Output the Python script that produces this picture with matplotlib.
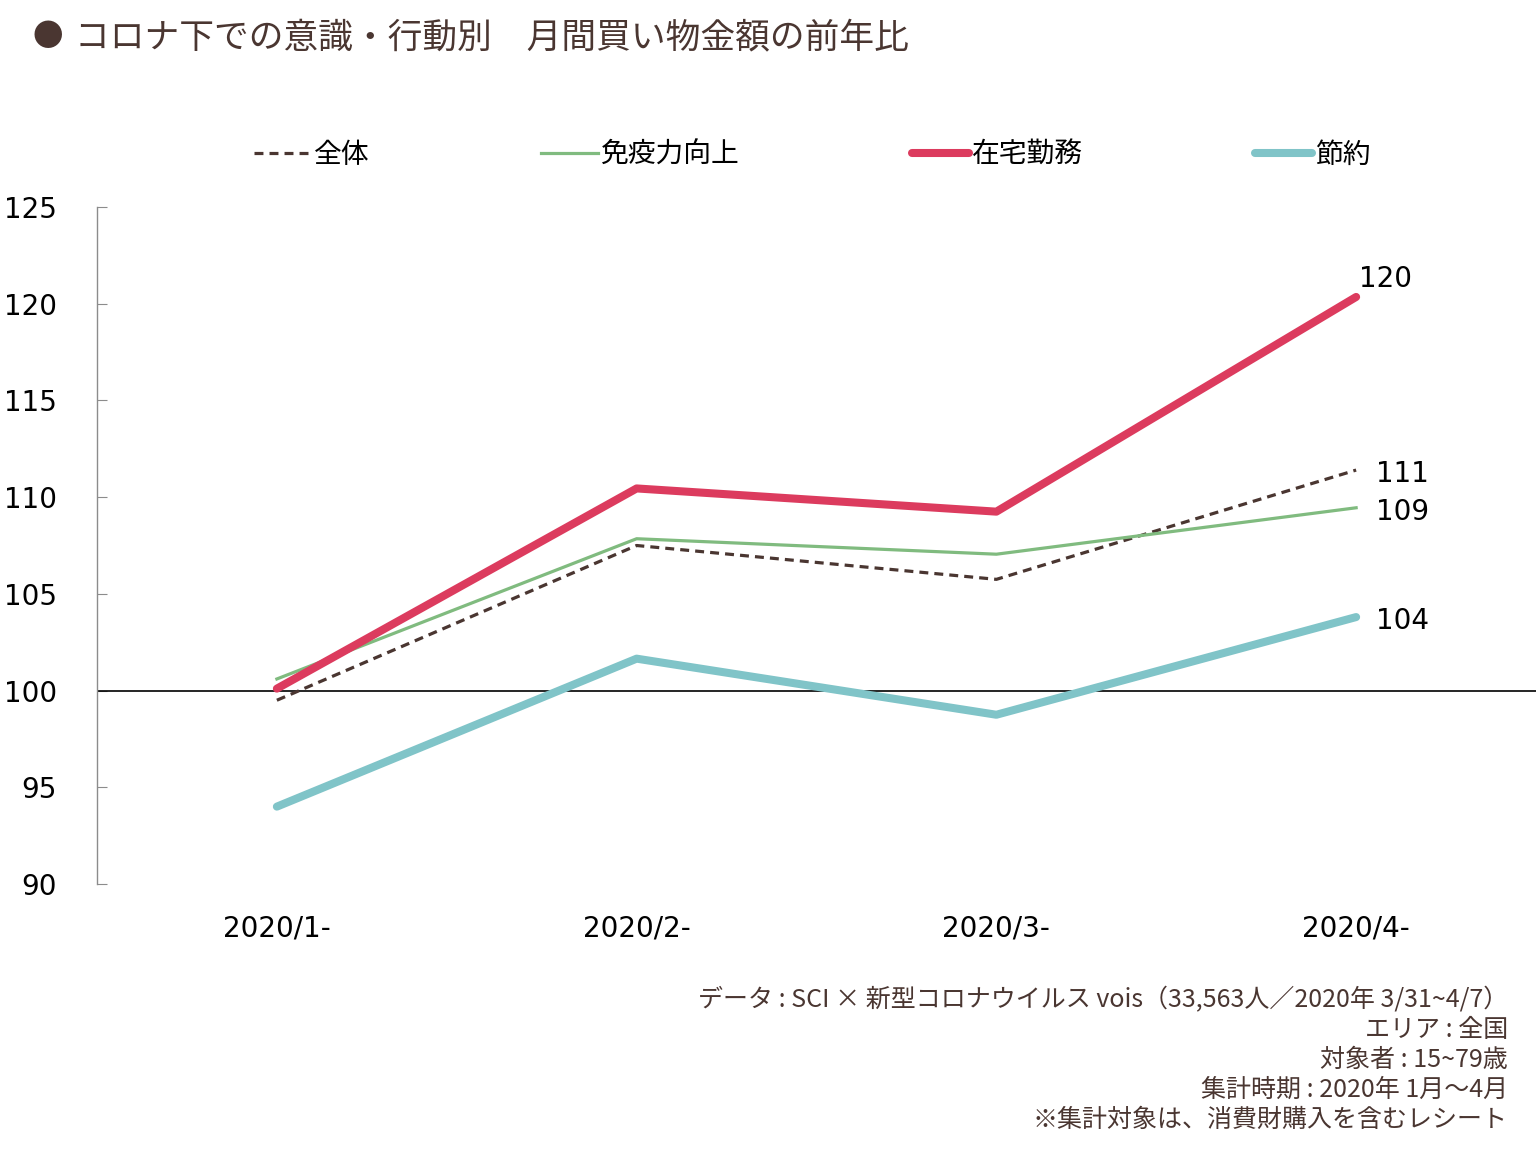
import os
import matplotlib
matplotlib.use("Agg")
import matplotlib.pyplot as plt
from matplotlib.font_manager import FontProperties

categories = ["2020/1-", "2020/2-", "2020/3-", "2020/4-"]
series_names = ["全体", "免疫力向上", "在宅勤務", "節約"]
overall = [99.5, 107.5, 105.75, 111.4]
immunity = [100.6, 107.85, 107.05, 109.45]
remote_work = [100.1, 110.45, 109.25, 120.35]
saving = [94.0, 101.65, 98.75, 103.8]
yticks = [90, 95, 100, 105, 110, 115, 120, 125]

title = "コロナ下での意識・行動別　月間買い物金額の前年比"
notes = [
    "データ : SCI × 新型コロナウイルス vois（33,563人／2020年 3/31~4/7）",
    "エリア : 全国",
    "対象者 : 15~79歳",
    "集計時期 : 2020年 1月～4月",
    "※集計対象は、消費財購入を含むレシート",
]

plt.rcParams["font.family"] = ["DejaVu Sans"]
JP = ["Noto Sans CJK JP", "DejaVu Sans"]
BROWN = "#4a3631"

dv_path = os.path.join(matplotlib.get_data_path(), "fonts", "ttf", "DejaVuSans.ttf")
if os.path.exists(dv_path):
    NUMFONT = FontProperties(fname=dv_path, size=20)
else:
    NUMFONT = FontProperties(family="DejaVu Sans", size=20)

fig = plt.figure(figsize=(15.36, 11.5), dpi=100)
ax = fig.add_axes([97 / 1536, 1 - 884 / 1150, 1 - 97 / 1536, (884 - 207) / 1150])

x = list(range(len(categories)))
styles = [
    (overall, dict(color="#4a3631", lw=2.3, ls=(0, (2.8, 1.9)))),
    (immunity, dict(color="#80bb7f", lw=2.3, ls="-")),
    (remote_work, dict(color="#dc3b5e", lw=5.8, ls="-", solid_capstyle="round")),
    (saving, dict(color="#80c4c8", lw=5.8, ls="-", solid_capstyle="round")),
]
handles = []
for (vals, st), name in zip(styles, series_names):
    h, = ax.plot(x, vals, label=name, zorder=3, **st)
    handles.append(h)

ax.axhline(100, color="black", lw=1.2, zorder=2)

ax.set_xlim(-0.5, 3.5)
ax.set_ylim(90, 125)
ax.set_yticks(yticks)
ax.set_yticklabels([str(t) for t in yticks], fontproperties=NUMFONT)
ax.set_xticks(x)
ax.set_xticklabels(categories, fontproperties=NUMFONT)
for s in ["top", "right", "bottom"]:
    ax.spines[s].set_visible(False)
ax.spines["left"].set_color("#8c8c8c")
ax.spines["left"].set_linewidth(1.0)
ax.tick_params(axis="y", direction="in", length=7, color="#8c8c8c", pad=29,
               labelcolor="black")
ax.tick_params(axis="x", length=0, pad=22, labelcolor="black")

# end labels
offsets = [(14, -3), (14, -3), (2, 13), (14, -3)]
for (vals, st), off in zip(styles, offsets):
    ax.annotate(f"{round(vals[-1])}", (x[-1], vals[-1]), xytext=off,
                textcoords="offset points", ha="left", va="center",
                fontproperties=NUMFONT, color="black", zorder=4)

fig.legend(handles=handles, labels=series_names, loc="center",
           bbox_to_anchor=(812 / 1536, 1 - 155 / 1150), ncol=4, frameon=False,
           prop={"family": JP, "size": 20}, handlelength=2.05,
           handletextpad=0.1, columnspacing=6.2, borderpad=0)

fig.text(33 / 1536, 1 - 38 / 1150, "●", family=JP, fontsize=22, color=BROWN,
         ha="left", va="center")
fig.text(75 / 1536, 1 - 38 / 1150, title, family=JP, fontsize=25, color=BROWN,
         ha="left", va="center")

for i, line in enumerate(notes):
    fig.text(1508 / 1536, 1 - (1000 + 30 * i) / 1150, line, family=JP,
             fontsize=18, color=BROWN, ha="right", va="center")

fig.savefig("out.png", dpi=100)
